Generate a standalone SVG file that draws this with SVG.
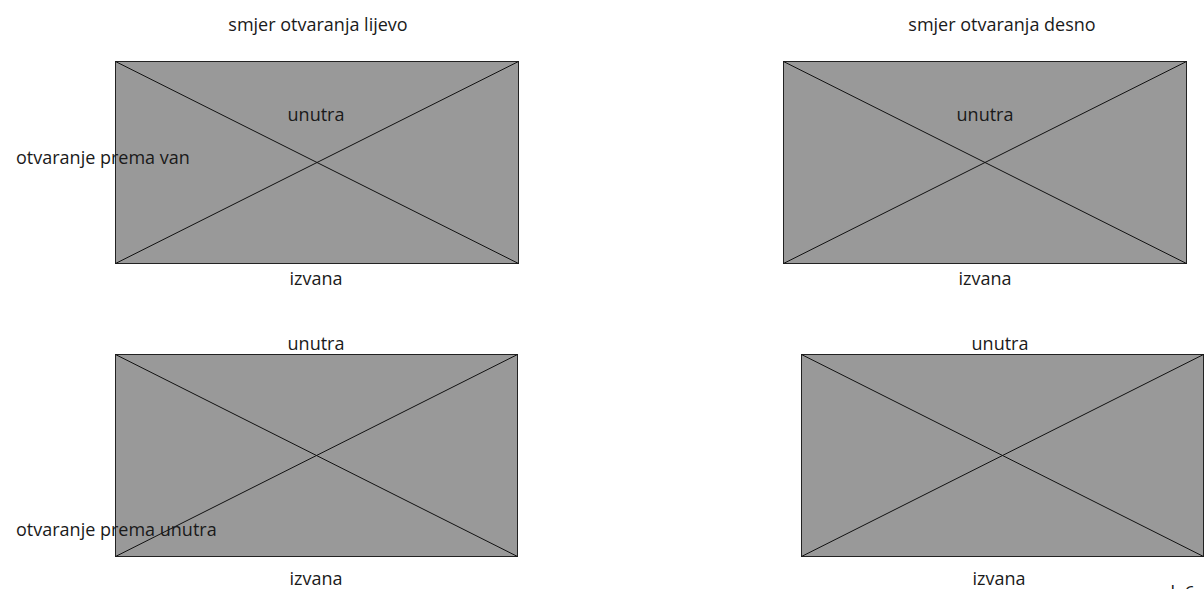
<svg xmlns="http://www.w3.org/2000/svg" width="1204" height="589" viewBox="0 0 1204 589">
<style>
.t{font-family:"Open Sans","Noto Sans",sans-serif;font-size:18px;fill:#1a1a1a}
.m{text-anchor:middle}
.r{fill:#999999;stroke:#222;stroke-width:1}
.x{stroke:#111;stroke-width:1;fill:none}
</style>
<rect width="1204" height="589" fill="#fff"/>
<g id="win-tl">
<rect class="r" x="115.5" y="61.5" width="403" height="202"/>
<line class="x" x1="115.5" y1="61.5" x2="518.5" y2="263.5"/>
<line class="x" x1="518.5" y1="61.5" x2="115.5" y2="263.5"/>
</g>
<g id="win-tr">
<rect class="r" x="783.5" y="61.5" width="403" height="202"/>
<line class="x" x1="783.5" y1="61.5" x2="1186.5" y2="263.5"/>
<line class="x" x1="1186.5" y1="61.5" x2="783.5" y2="263.5"/>
</g>
<g id="win-bl">
<rect class="r" x="115.5" y="354.5" width="402" height="202"/>
<line class="x" x1="115.5" y1="354.5" x2="517.5" y2="556.5"/>
<line class="x" x1="517.5" y1="354.5" x2="115.5" y2="556.5"/>
</g>
<g id="win-br">
<rect class="r" x="801.5" y="354.5" width="402" height="202"/>
<line class="x" x1="801.5" y1="354.5" x2="1203.5" y2="556.5"/>
<line class="x" x1="1203.5" y1="354.5" x2="801.5" y2="556.5"/>
</g>
<g id="labels">
<text class="t m" x="318" y="31">smjer otvaranja lijevo</text>
<text class="t m" x="1002" y="31">smjer otvaranja desno</text>
<text class="t m" x="316" y="121">unutra</text>
<text class="t" x="16" y="164">otvaranje prema van</text>
<text class="t m" x="316" y="285">izvana</text>
<text class="t m" x="985" y="121">unutra</text>
<text class="t m" x="985" y="285">izvana</text>
<text class="t m" x="316" y="350">unutra</text>
<text class="t" x="16" y="536">otvaranje prema unutra</text>
<text class="t m" x="316" y="585">izvana</text>
<text class="t m" x="1000" y="350">unutra</text>
<text class="t m" x="999" y="585">izvana</text>
<text class="t" x="1162" y="599">sl. 6</text>
</g>
</svg>
